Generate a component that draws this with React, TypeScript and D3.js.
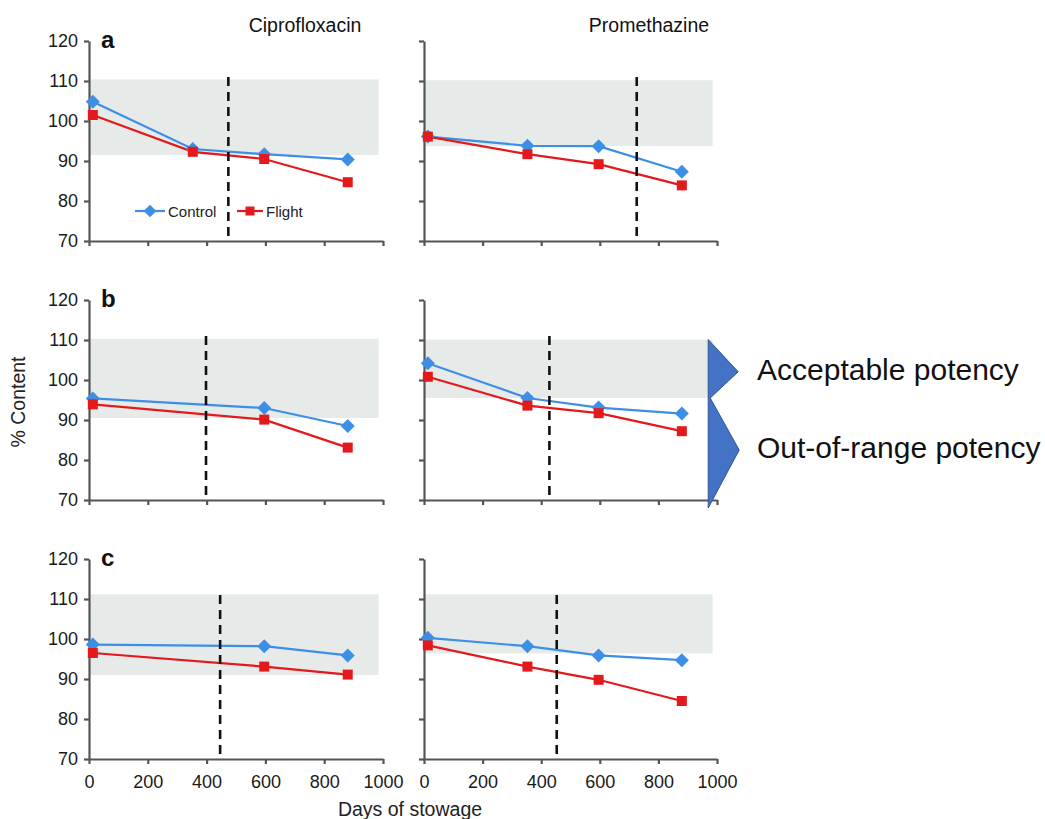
import React, { useRef, useEffect } from "react";
import * as d3 from "d3";

const FONT = "'Liberation Sans', Arial, Helvetica, sans-serif";

const rowLetters = ["a", "b", "c"];
const drugs = ["Ciprofloxacin", "Promethazine"];
const xTicks = [0, 200, 400, 600, 800, 1000];
const yTicks = [70, 80, 90, 100, 110, 120];

const daysAll = [13, 353, 596, 880];
const daysNo353 = [13, 596, 880];

// ciprofloxacin, rows a..c
const ciproDays = [daysAll, daysNo353, daysNo353];
const ciproControl = [
  [104.8, 93.0, 91.7, 90.4],
  [95.4, 93.0, 88.5],
  [98.6, 98.2, 95.9],
];
const ciproFlight = [
  [101.5, 92.3, 90.5, 84.7],
  [93.9, 90.1, 83.1],
  [96.5, 93.1, 91.1],
];
const ciproBand = [
  [91.5, 110.4],
  [90.5, 110.3],
  [91.0, 111.2],
];
const ciproExpiry = [474, 398, 446];

// promethazine, rows a..c
const promDays = [daysAll, daysAll, daysAll];
const promControl = [
  [96.1, 93.8, 93.7, 87.3],
  [104.2, 95.5, 93.1, 91.6],
  [100.3, 98.2, 95.9, 94.7],
];
const promFlight = [
  [96.1, 91.7, 89.2, 83.9],
  [100.8, 93.6, 91.7, 87.2],
  [98.4, 93.1, 89.8, 84.5],
];
const promBand = [
  [93.7, 110.2],
  [95.5, 110.1],
  [96.4, 111.2],
];
const promExpiry = [726, 428, 453];

const seriesNames = ["Control", "Flight"];
const potencyLabels = ["Acceptable potency", "Out-of-range potency"];

const BLUE = "#3d8ee6";
const RED = "#e3191c";
const AXIS = "#555";

const App = () => {
  const svgRef = useRef(null);

  useEffect(() => {
    const width = 1045;
    const height = 819;
    const rowTop = [41, 300, 559];
    const rowH = 200;
    const colLeft = [89, 424];
    const colRight = [383, 717];

    const svg = d3.select(svgRef.current);
    svg.selectAll("*").remove();
    svg.attr("width", width).attr("height", height);

    const diamond = "M0,-7L7,0L0,7L-7,0Z";
    const square = "M-5,-5H5V5H-5Z";

    const yScales = rowTop.map((t) =>
      d3.scaleLinear().domain([70, 120]).range([t + rowH, t])
    );
    const xScales = colLeft.map((l, i) =>
      d3.scaleLinear().domain([0, 1000]).range([l, colRight[i]])
    );

    const tables = [
      { days: ciproDays, control: ciproControl, flight: ciproFlight, band: ciproBand, expiry: ciproExpiry },
      { days: promDays, control: promControl, flight: promFlight, band: promBand, expiry: promExpiry },
    ];

    rowTop.forEach((_, r) => {
      tables.forEach((tb, c) => {
        const x = xScales[c];
        const y = yScales[r];
        const g = svg.append("g");

        // acceptable range band
        const [lo, hi] = tb.band[r];
        g.append("rect")
          .attr("x", x(0))
          .attr("y", y(hi))
          .attr("width", x(985) - x(0))
          .attr("height", y(lo) - y(hi))
          .attr("fill", "#e6ebe9");

        const yAxis = d3.axisLeft(y).tickValues(yTicks).tickSize(5).tickPadding(6).tickSizeOuter(0);
        yAxis.tickFormat(c === 1 ? () => "" : d3.format("d"));
        const xAxis = d3.axisBottom(x).tickValues(xTicks).tickSize(5).tickPadding(11).tickSizeOuter(0);
        xAxis.tickFormat(r < 2 ? () => "" : d3.format("d"));

        const ya = g.append("g").attr("transform", `translate(${x(0)},0)`).call(yAxis);
        const xa = g.append("g").attr("transform", `translate(0,${y(70)})`).call(xAxis);
        [ya, xa].forEach((a) => {
          a.select(".domain").attr("stroke", AXIS).attr("stroke-width", 2.2);
          a.selectAll(".tick line").attr("stroke", AXIS).attr("stroke-width", 2.2);
          a.selectAll(".tick text")
            .attr("fill", "#1a1a1a")
            .style("font-family", FONT)
            .style("font-size", "18px");
        });

        const line = d3
          .line()
          .x((d) => x(d[0]))
          .y((d) => y(d[1]));

        const ctrl = tb.days[r].map((d, i) => [d, tb.control[r][i]]);
        const flt = tb.days[r].map((d, i) => [d, tb.flight[r][i]]);

        g.append("path").attr("d", line(ctrl)).attr("fill", "none").attr("stroke", BLUE).attr("stroke-width", 2.2);
        g.append("path").attr("d", line(flt)).attr("fill", "none").attr("stroke", RED).attr("stroke-width", 2.2);

        // expiry marker
        g.append("line")
          .attr("x1", x(tb.expiry[r]))
          .attr("x2", x(tb.expiry[r]))
          .attr("y1", y(111))
          .attr("y2", y(70))
          .attr("stroke", "#111")
          .attr("stroke-width", 2.6)
          .attr("stroke-dasharray", "9,6");

        g.selectAll(".ctrl")
          .data(ctrl)
          .join("path")
          .attr("d", diamond)
          .attr("transform", (d) => `translate(${x(d[0])},${y(d[1])})`)
          .attr("fill", BLUE);
        g.selectAll(".flt")
          .data(flt)
          .join("path")
          .attr("d", square)
          .attr("transform", (d) => `translate(${x(d[0])},${y(d[1])})`)
          .attr("fill", RED);

        if (c === 0) {
          g.append("text")
            .attr("x", x(0) + 12)
            .attr("y", y(120) + 7)
            .attr("font-family", FONT)
            .attr("font-weight", "bold")
            .attr("font-size", 24)
            .attr("fill", "#111")
            .text(rowLetters[r]);
        }
      });
    });

    // column titles
    drugs.forEach((name, c) => {
      svg.append("text")
        .attr("x", [305, 649][c])
        .attr("y", 32)
        .attr("text-anchor", "middle")
        .attr("font-family", FONT)
        .attr("font-size", 19.5)
        .attr("fill", "#111")
        .text(name);
    });

    // legend
    const lg = svg.append("g").attr("transform", "translate(0,211)");
    [[135, 165, 150, BLUE, diamond], [237, 263, 250, RED, square]].forEach((it, i) => {
      const [a, b, m, col, shp] = it as [number, number, number, string, string];
      lg.append("line").attr("x1", a).attr("x2", b).attr("y1", 0).attr("y2", 0).attr("stroke", col).attr("stroke-width", 2.2);
      lg.append("path").attr("d", shp).attr("transform", `translate(${m},0) scale(0.9)`).attr("fill", col);
      lg.append("text")
        .attr("x", b + 3)
        .attr("y", 5.5)
        .attr("font-family", FONT)
        .attr("font-size", 15)
        .attr("fill", "#222")
        .text(seriesNames[i]);
    });

    // axis titles
    svg.append("text")
      .attr("transform", "translate(25,402) rotate(-90)")
      .attr("text-anchor", "middle")
      .attr("font-family", FONT)
      .attr("font-size", 19.5)
      .attr("fill", "#222")
      .text("% Content");
    svg.append("text")
      .attr("x", 410)
      .attr("y", 816)
      .attr("text-anchor", "middle")
      .attr("font-family", FONT)
      .attr("font-size", 19.5)
      .attr("fill", "#222")
      .text("Days of stowage");

    // potency chevrons next to panel b (promethazine)
    const yB = yScales[1];
    const L = xScales[1](970);
    const top = yB(promBand[1][1]);
    const notch = yB(promBand[1][0]);
    const bottom = yB(68);
    const pts = [
      [L, top],
      [L + 30, (top + notch) / 2 + 3],
      [L + 2, notch],
      [L + 31, (notch + bottom) / 2 - 3],
      [L, bottom],
    ];
    svg.append("polygon")
      .attr("points", pts.map((p) => p.join(",")).join(" "))
      .attr("fill", "#4472c4")
      .attr("stroke", "#2f5597")
      .attr("stroke-width", 1);

    potencyLabels.forEach((t, i) => {
      svg.append("text")
        .attr("x", 757)
        .attr("y", [380, 458][i])
        .attr("font-family", FONT)
        .attr("font-size", 30)
        .attr("fill", "#111")
        .text(t);
    });
  }, []);

  return (
    <div style={{ position: "absolute", left: 0, top: 0, background: "#fff" }}>
      <svg ref={svgRef} style={{ display: "block" }}></svg>
    </div>
  );
};

export default App;
